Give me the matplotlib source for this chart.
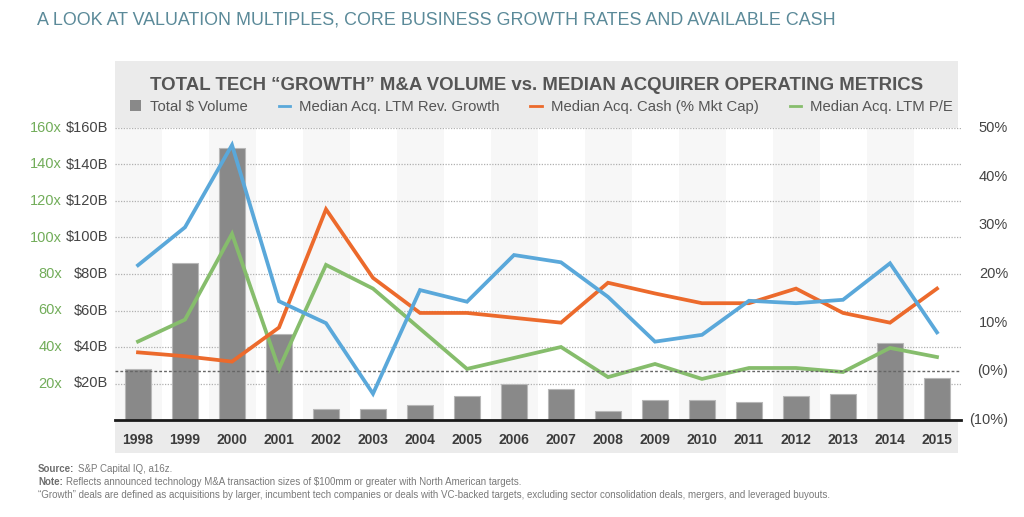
import matplotlib
matplotlib.use("Agg")
import matplotlib.pyplot as plt
from matplotlib.patches import Rectangle, Patch
from matplotlib.lines import Line2D
import matplotlib.transforms as mtrans

plt.rcParams['font.family'] = ['Liberation Sans', 'DejaVu Sans']

years = [str(y) for y in range(1998, 2016)]
volume_b = [28, 86, 149, 47, 6, 6, 8, 13, 20, 17, 5, 11, 11, 10, 13, 14, 42, 23]
rev_growth_pct = [21.8, 29.6, 46.5, 14.4, 9.9, -4.6, 16.7, 14.3, 23.9, 22.4, 15.3, 6.1, 7.5, 14.5, 14.0, 14.7, 22.2, 8.0]
cash_pct = [3.9, 3.1, 2.0, 9.0, 33.3, 19.2, 12.0, 12.0, 11.0, 10.0, 18.2, 16.0, 14.0, 14.0, 17.0, 12.0, 10.0, 17.0]
pe_x = [43, 55, 102, 28, 85, 72, 50, 28, 34, 40, 23.5, 30.7, 22.5, 28.5, 28.5, 26.3, 39.5, 34.5]

left_ticks = [20, 40, 60, 80, 100, 120, 140, 160]
left_labels_b = ["$20B", "$40B", "$60B", "$80B", "$100B", "$120B", "$140B", "$160B"]
left_labels_x = ["20x", "40x", "60x", "80x", "100x", "120x", "140x", "160x"]
right_ticks = [50, 40, 30, 20, 10, 0, -10]
right_labels = ["50%", "40%", "30%", "20%", "10%", "(0%)", "(10%)"]

C_BLUE = "#5aa8da"
C_ORANGE = "#ec6a2c"
C_GREEN = "#86bd6c"
C_BAR = "#898989"
C_GREENTXT = "#72ad5a"

W, H = 1024, 517
fig = plt.figure(figsize=(W / 100, H / 100), dpi=100)
fig.patch.set_facecolor("white")

def fx(x):
    return x / W

def fy(y):
    return 1 - y / H

# outer grey panel
fig.patches.append(Rectangle((fx(115), fy(453)), fx(958) - fx(115), fy(61) - fy(453),
                             transform=fig.transFigure, facecolor="#ebebeb",
                             edgecolor="none", zorder=0))

ax = fig.add_axes([fx(114.5), fy(420), fx(960.5) - fx(114.5), fy(128) - fy(420)])
ax.set_facecolor("white")
ax.set_zorder(1)
n = len(years)
idx = list(range(n))
ax.set_xlim(-0.5, n - 0.5)
ax.set_ylim(0, 160)

for i in idx:
    if i % 2 == 0:
        ax.axvspan(i - 0.5, i + 0.5, color="#f7f7f7", zorder=0, lw=0)

for t in left_ticks:
    ax.axhline(t, color="#b0b0b0", lw=0.9, ls=(0, (1, 1.2)), zorder=1)

ax.bar(idx, volume_b, width=0.56, color=C_BAR, edgecolor="#b8b8b8", lw=0.8, zorder=2)
ax.plot(idx, pe_x, color=C_GREEN, lw=2.7, zorder=3, solid_joinstyle="miter")

for s in ["top", "left", "right"]:
    ax.spines[s].set_visible(False)
ax.spines["bottom"].set_linewidth(2.0)
ax.spines["bottom"].set_color("#1a1a1a")
ax.spines["bottom"].set_zorder(6)

ax.set_xticks(idx)
ax.set_xticklabels(years, fontsize=10, fontweight="bold", color="#3c3c3c")
ax.tick_params(axis="x", length=0, pad=9)
ax.set_yticks([])

blend = mtrans.blended_transform_factory(fig.transFigure, ax.transData)
for t, lb, lx in zip(left_ticks, left_labels_b, left_labels_x):
    fig.text(fx(108), t, lb, transform=blend, ha="right", va="center",
             fontsize=10.5, color="#444444")
    fig.text(fx(62), t, lx, transform=blend, ha="right", va="center",
             fontsize=10.5, color=C_GREENTXT)

ax2 = ax.twinx()
ax2.set_ylim(-10, 50)
for s in ["top", "left", "right", "bottom"]:
    ax2.spines[s].set_visible(False)
ax2.set_yticks([])
ax2.axhline(0, color="#666666", lw=1.0, ls=(0, (2, 1.5)), zorder=1)
ax2.plot(idx, cash_pct, color=C_ORANGE, lw=2.7, zorder=3, solid_joinstyle="miter")
ax2.plot(idx, rev_growth_pct, color=C_BLUE, lw=2.7, zorder=4, solid_joinstyle="miter")

blend2 = mtrans.blended_transform_factory(fig.transFigure, ax2.transData)
for t, lb in zip(right_ticks, right_labels):
    fig.text(fx(1008), t, lb, transform=blend2, ha="right", va="center",
             fontsize=10.5, color="#444444")

# titles
fig.text(fx(37), fy(20), "A LOOK AT VALUATION MULTIPLES, CORE BUSINESS GROWTH RATES AND AVAILABLE CASH",
         ha="left", va="center", fontsize=12.9, color="#5b8a99")
fig.text(fx(537), fy(86), "TOTAL TECH \u201cGROWTH\u201d M&A VOLUME vs. MEDIAN ACQUIRER OPERATING METRICS",
         ha="center", va="center", fontsize=13.4, fontweight="bold", color="#555555")

handles = [Patch(facecolor=C_BAR, edgecolor="none"),
           Line2D([], [], color=C_BLUE, lw=2),
           Line2D([], [], color=C_ORANGE, lw=2),
           Line2D([], [], color=C_GREEN, lw=2)]
labels = ["Total $ Volume", "Median Acq. LTM Rev. Growth",
          "Median Acq. Cash (% Mkt Cap)", "Median Acq. LTM P/E"]
leg = fig.legend(handles, labels, loc="center", bbox_to_anchor=(fx(541), fy(107)),
                 ncol=4, frameon=False, fontsize=10.7, handlelength=0.75,
                 handleheight=0.75, handletextpad=0.6, columnspacing=2.1)
for t in leg.get_texts():
    t.set_color("#555555")

# footnotes
notes = [("Source:", "S&P Capital IQ, a16z.", 469),
         ("Note:", "Reflects announced technology M&A transaction sizes of $100mm or greater with North American targets.", 482),
         ("", "\u201cGrowth\u201d deals are defined as acquisitions by larger, incumbent tech companies or deals with VC-backed targets, excluding sector consolidation deals, mergers, and leveraged buyouts.", 495)]
for bold, rest, y in notes:
    if bold:
        t1 = fig.text(fx(38), fy(y), bold, ha="left", va="center", fontsize=7.05,
                      fontweight="bold", color="#6e6e6e")
        ann = matplotlib.text.Annotation(rest, xy=(1, 0.5), xycoords=t1, va="center",
                                         ha="left", fontsize=7.05, color="#7a7a7a",
                                         xytext=(2.5, 0), textcoords="offset points",
                                         annotation_clip=False)
        fig.add_artist(ann)
    else:
        fig.text(fx(38), fy(y), rest, ha="left", va="center", fontsize=7.05, color="#7a7a7a")

fig.savefig("out.png", dpi=100)
